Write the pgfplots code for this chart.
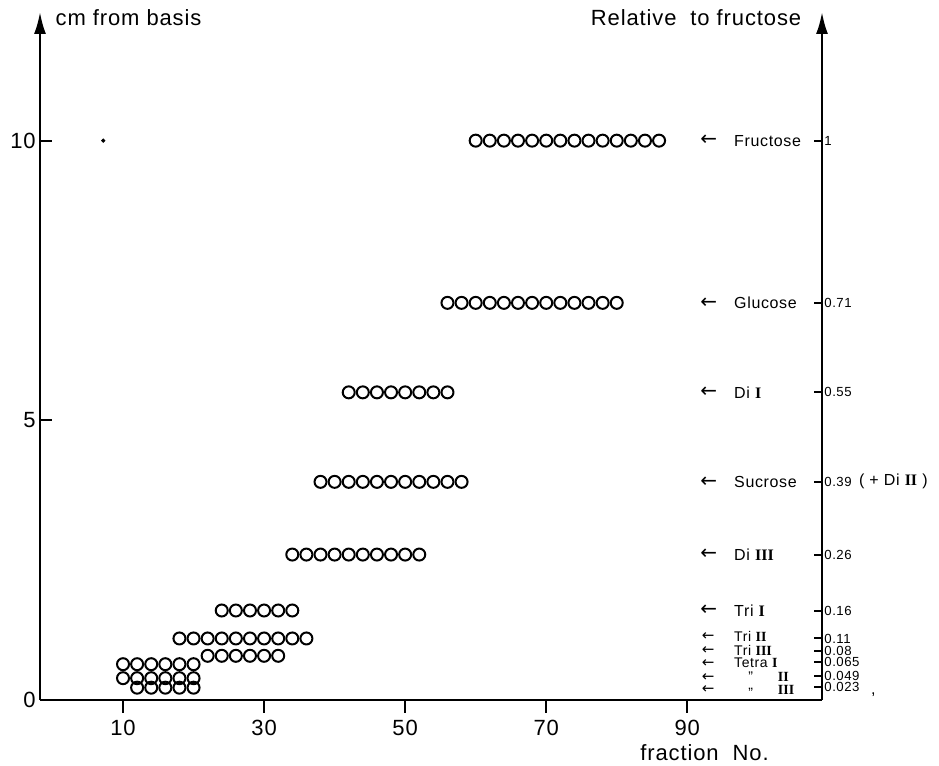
\documentclass[border=0pt]{standalone}
\usepackage{pgfplots}
\pgfplotsset{compat=1.18}
\usetikzlibrary{arrows.meta}
\usepackage{fontspec}
\setmainfont[LetterSpace=4]{Liberation Sans}
\newfontfamily\arrowfont{DejaVu Sans}
\newfontfamily\romfont{Liberation Serif}

\pgfplotsset{
  base/.style={scale only axis, width=391pt, height=344pt,
    xmin=-1.77, xmax=109.1, ymin=0, ymax=12.3, clip=false,
    /pgf/number format/assume math mode=true},
  dots/.style={black, only marks, mark=o, mark size=3pt,
    mark options={line width=1pt, draw=black}},
}
\newcommand\annfont{\fontsize{8}{8}\selectfont}
\newcommand\smallann{\fontsize{7}{7}\selectfont}
\newcommand\lab[3]{%
  \node[anchor=west,inner sep=0pt,font=\arrowfont\fontsize{10}{10}\selectfont] at (axis cs:91.8,#1) {←};
  \node[anchor=west,inner sep=0pt,font=\annfont] at (axis cs:#2,#1) {#3};}
\newcommand\labs[3]{%
  \node[anchor=west,inner sep=0pt,font=\arrowfont\fontsize{7.5}{7.5}\selectfont] at (axis cs:92.0,#1) {←};
  \node[anchor=west,inner sep=0pt,font=\smallann] at (axis cs:#2,#1) {#3};}

\begin{document}
\begin{tikzpicture}
\path[use as bounding box] (-20pt,-33pt) rectangle (449.5pt,350pt);

% right axis: relative to fructose
\begin{axis}[base, axis x line=none, axis y line=right,
  y axis line style={line width=1.2pt, -{Latex[length=11pt,width=6pt]}},
  xtick=\empty,
  ytick={10,7.1,5.5,3.9,2.6,1.6,1.1,0.87,0.68,0.43,0.23},
  yticklabels={1,0.71,0.55,0.39,0.26,0.16,0.11,0.08,0.065,0.049,0.023},
  tick align=inside, major tick length=4pt,
  tick style={line width=1pt, black},
  yticklabel style={font=\fontsize{6.6}{6.6}\selectfont, inner sep=1pt}]
\end{axis}

% left ticks
\begin{axis}[base, axis x line=none, axis y line=left,
  y axis line style={draw=none},
  xtick=\empty, ytick={0,5,10},
  tick align=inside, major tick length=6pt,
  tick style={line width=1pt, black},
  yticklabel style={font=\fontsize{11}{11}\selectfont, inner sep=2pt}]
\end{axis}

% main axis with data
\begin{axis}[base, axis x line=bottom, axis y line=left,
  x axis line style={line width=1.3pt, -},
  y axis line style={line width=1.2pt, -{Latex[length=11pt,width=6pt]}},
  xtick={10,30,50,70,90}, ytick=\empty,
  tick align=outside, major tick length=6.5pt,
  tick style={line width=1pt, black},
  xticklabel style={font=\fontsize{11}{11}\selectfont}]

\addplot[dots] coordinates {(60,10)(62,10)(64,10)(66,10)(68,10)(70,10)(72,10)(74,10)(76,10)(78,10)(80,10)(82,10)(84,10)(86,10)};
\addplot[dots] coordinates {(56,7.1)(58,7.1)(60,7.1)(62,7.1)(64,7.1)(66,7.1)(68,7.1)(70,7.1)(72,7.1)(74,7.1)(76,7.1)(78,7.1)(80,7.1)};
\addplot[dots] coordinates {(42,5.5)(44,5.5)(46,5.5)(48,5.5)(50,5.5)(52,5.5)(54,5.5)(56,5.5)};
\addplot[dots] coordinates {(38,3.9)(40,3.9)(42,3.9)(44,3.9)(46,3.9)(48,3.9)(50,3.9)(52,3.9)(54,3.9)(56,3.9)(58,3.9)};
\addplot[dots] coordinates {(34,2.6)(36,2.6)(38,2.6)(40,2.6)(42,2.6)(44,2.6)(46,2.6)(48,2.6)(50,2.6)(52,2.6)};
\addplot[dots] coordinates {(24,1.6)(26,1.6)(28,1.6)(30,1.6)(32,1.6)(34,1.6)};
\addplot[dots] coordinates {(18,1.1)(20,1.1)(22,1.1)(24,1.1)(26,1.1)(28,1.1)(30,1.1)(32,1.1)(34,1.1)(36,1.1)};
\addplot[dots] coordinates {(22,0.79)(24,0.79)(26,0.79)(28,0.79)(30,0.79)(32,0.79)};
\addplot[dots] coordinates {(10,0.64)(12,0.64)(14,0.64)(16,0.64)(18,0.64)(20,0.64)};
\addplot[dots] coordinates {(10,0.39)(12,0.39)(14,0.39)(16,0.39)(18,0.39)(20,0.39)};
\addplot[dots] coordinates {(12,0.22)(14,0.22)(16,0.22)(18,0.22)(20,0.22)};
\addplot[black, only marks, mark=*, mark size=0.8pt] coordinates {(7.2,10)};

\lab{10}{96.6}{Fructose}
\lab{7.1}{96.6}{Glucose}
\lab{5.5}{96.6}{Di {\romfont\bfseries I}}
\lab{3.9}{96.6}{Sucrose}
\lab{2.6}{96.6}{Di {\romfont\bfseries III}}
\lab{1.6}{96.6}{Tri {\romfont\bfseries I}}
\labs{1.13}{96.6}{Tri {\romfont\bfseries II}}
\labs{0.88}{96.6}{Tri {\romfont\bfseries III}}
\labs{0.66}{96.6}{Tetra {\romfont\bfseries I}}
\labs{0.41}{98.6}{''}
\labs{0.18}{98.6}{,,}
\node[anchor=west,inner sep=0pt,font=\smallann] at (axis cs:102.8,0.41) {\romfont\bfseries II};
\node[anchor=west,inner sep=0pt,font=\smallann] at (axis cs:102.8,0.18) {\romfont\bfseries III};

\node[anchor=west,inner sep=0pt,font=\annfont] at (axis cs:114.3,3.9) {( + Di {\romfont\bfseries II} )};
\node[anchor=west,inner sep=0pt,font=\annfont] at (axis cs:116,0.1) {,};

\node[anchor=west,inner sep=0pt,font=\fontsize{11}{11}\selectfont] at (axis cs:0.4,12.2) {cm from basis};
\node[anchor=east,inner sep=0pt,font=\fontsize{11}{11}\selectfont] at (axis cs:106.2,12.2) {Relative\ \ to fructose};
\node[anchor=west,inner sep=0pt,font=\fontsize{11}{11}\selectfont] at (axis cs:83.3,-0.95) {fraction\ \ No.};
\end{axis}
\end{tikzpicture}
\end{document}
